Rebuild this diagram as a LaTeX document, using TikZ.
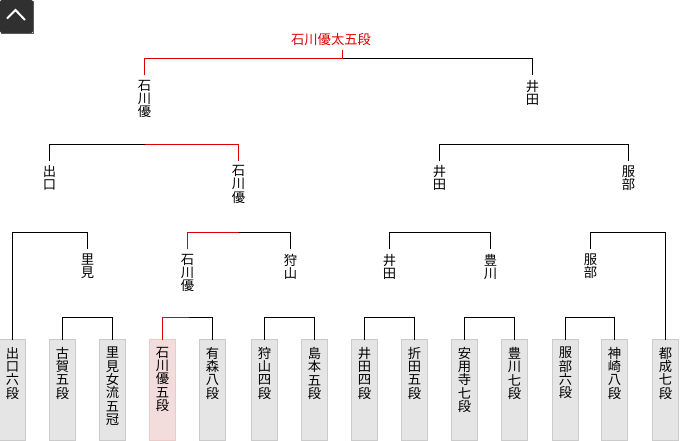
\documentclass[tikz,border=0pt]{standalone}
\usepackage{fontspec}
\newfontfamily\jp{Noto Sans CJK JP}
\definecolor{winred}{HTML}{DD0000}
\definecolor{boxfill}{HTML}{E5E5E5}
\definecolor{boxline}{HTML}{CACACA}
\definecolor{pinkfill}{HTML}{F3DCDC}
\definecolor{pinkline}{HTML}{EBCACA}
\definecolor{btnfill}{HTML}{303030}
\definecolor{btnedge}{HTML}{5A5A5A}
\newcommand\vstk[1]{\vbox{\baselineskip=13.3pt\lineskiplimit=-100pt\lineskip=0pt\vstkI#1\relax}}
\def\vstkI#1{\ifx\relax#1\else\hbox to 14pt{\hss#1\hss}\expandafter\vstkI\fi}
\tikzset{
  ln/.style={line width=1pt, draw=black},
  win/.style={line width=1pt, draw=winred},
  jpt/.style={font=\jp\fontsize{13.3}{13.3}\selectfont},
  lbl/.style={jpt, anchor=north, inner sep=0pt, outer xsep=0pt, outer ysep=5pt},
  boxn/.style={anchor=north, draw=boxline, fill=boxfill, line width=1pt, minimum width=26pt, minimum height=101pt, inner sep=0pt, outer sep=0pt},
  pinkbox/.style={boxn, draw=pinkline, fill=pinkfill},
  boxtxt/.style={jpt, anchor=north, inner sep=0pt},
  ttl/.style={jpt, text=winred, inner sep=0pt, outer ysep=4pt},
}
\begin{document}
\begin{tikzpicture}[x=1pt,y=-1pt]
\useasboundingbox (0,0) rectangle (680,440);
% button
\fill[btnfill, rounded corners=2pt] (0,0) rectangle (33,33);
\draw[btnedge, line width=0.8pt] (33,1) -- (33,33) -- (1,33);
\draw[white, line width=2pt, line cap=butt, line join=miter] (7,18.5) -- (15.5,10) -- (25,20);
% boxes
\foreach \i/\x/\t in {0/12.5/出口六段,1/62.5/古賀五段,2/112.5/里見女流五冠,4/212.5/有森八段,5/264.5/狩山四段,6/314.5/島本五段,7/364.5/井田四段,8/414.5/折田五段,9/464.5/安用寺七段,10/514.5/豊川七段,11/565.5/服部六段,12/614.5/神崎八段,13/665.5/都成七段}{
  \node[boxn] (b\i) at (\x,339.5) {};
  \node[boxtxt] (t\i) at (\x,347) {\expandafter\vstk\expandafter{\t}};
}
\node[pinkbox] (b3) at (162.5,339.5) {};
\node[boxtxt] (t3) at (162.5,347) {\vstk{石川優五段}};
% level 2 labels
\node[lbl] (l2a) at (87.5,249) {\vstk{里見}};
\node[lbl] (l2b) at (187.5,249) {\vstk{石川優}};
\node[lbl] (l2c) at (290.5,249) {\vstk{狩山}};
\node[lbl] (l2d) at (389.5,249) {\vstk{井田}};
\node[lbl] (l2e) at (490.5,249) {\vstk{豊川}};
\node[lbl] (l2f) at (590.5,249) {\vstk{服部}};
% level 3 labels
\node[lbl] (l3a) at (49.5,160.5) {\vstk{出口}};
\node[lbl] (l3b) at (238.5,160.5) {\vstk{石川優}};
\node[lbl] (l3c) at (439.5,160.5) {\vstk{井田}};
\node[lbl] (l3d) at (628.5,160.5) {\vstk{服部}};
% level 4 labels
\node[lbl] (l4a) at (144.5,75) {\vstk{石川優}};
\node[lbl] (l4b) at (532.5,75) {\vstk{井田}};
% title
\node[ttl] (ti) at (331,39.5) {石川優太五段};
% level 1 matches (y=317)
\coordinate (h1) at (87.5,317.5);
\coordinate (h2) at (188.5,317.5);
\coordinate (h3) at (289.5,317.5);
\coordinate (h4) at (389.5,317.5);
\coordinate (h5) at (489.5,317.5);
\coordinate (h6) at (589.5,317.5);
\draw[ln] (b1.north) |- (h1) -| (b2.north);
\draw[win] (b3.north) |- (h2);
\draw[ln] (h2) -| (b4.north);
\draw[ln] (b5.north) |- (h3) -| (b6.north);
\draw[ln] (b7.north) |- (h4) -| (b8.north);
\draw[ln] (b9.north) |- (h5) -| (b10.north);
\draw[ln] (b11.north) |- (h6) -| (b12.north);
% level 2 matches (y=232)
\coordinate (k1) at (49.5,232.5);
\coordinate (k2) at (238.5,232.5);
\coordinate (k3) at (439.5,232.5);
\coordinate (k4) at (628.5,232.5);
\draw[ln] (b0.north) |- (k1) -| (l2a.north);
\draw[win] (l2b.north) |- (k2);
\draw[ln] (k2) -| (l2c.north);
\draw[ln] (l2d.north) |- (k3) -| (l2e.north);
\draw[ln] (l2f.north) |- (k4) -| (b13.north);
% level 3 matches (y=144)
\coordinate (j1) at (144.5,144.5);
\coordinate (j2) at (532.5,144.5);
\draw[ln] (l3a.north) |- (j1);
\draw[win] (j1) -| (l3b.north);
\draw[ln] (l3c.north) |- (j2) -| (l3d.north);
% final (y=58)
\coordinate (s) at (342.5,58.5);
\draw[win] (l4a.north) |- (s);
\draw[ln] (s) -| (l4b.north);
\draw[win] (s) -- (s |- ti.south);
\end{tikzpicture}
\end{document}
